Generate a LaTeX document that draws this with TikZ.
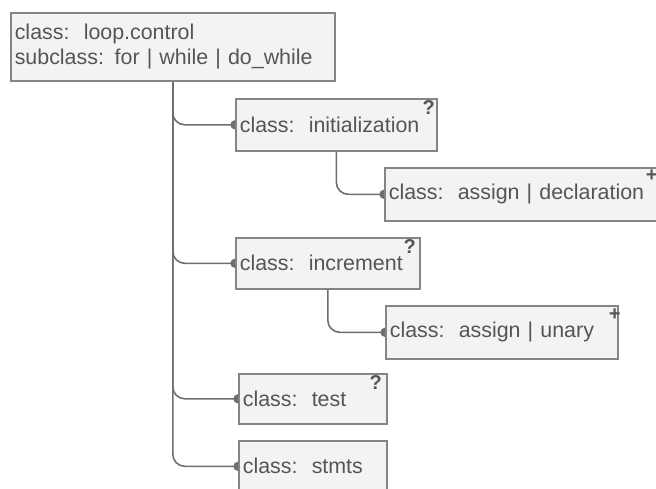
\documentclass[tikz,border=0pt]{standalone}
\usepackage{fontspec}
\setmainfont{Liberation Sans}
\usetikzlibrary{arrows.meta,positioning,calc,backgrounds}
\definecolor{boxfill}{HTML}{F3F3F3}
\definecolor{boxline}{HTML}{858585}
\definecolor{boxtext}{HTML}{555555}
\definecolor{linkgray}{HTML}{6E6E6E}
\tikzset{
    classbox/.style={rectangle, draw=boxline, fill=boxfill, text=boxtext, line width=0.8pt, font=\fontsize{10.7}{12.5}\selectfont, inner xsep=2pt, inner ysep=0pt, align=left, anchor=north west},
    multi/.style={text=boxtext, font=\fontsize{10}{10}\selectfont\bfseries, inner sep=0pt},
    link/.style={draw=linkgray, line width=0.8pt, rounded corners=6pt, -{Circle[length=4.6pt]}, shorten >=-2.3pt}
}

\begin{document}
\begin{tikzpicture}[x=0.5pt,y=-0.5pt]

\useasboundingbox (0,0) rectangle (656,488);
\clip (0,0) rectangle (656,488);

% ----------------------------
% Class boxes
% ----------------------------
\node[classbox, text width=158pt, minimum height=34pt] (loop) at (10,12) {class:~~loop.control\\subclass: for | while | do\_while};

\node[classbox, text width=96.5pt, minimum height=26pt] (init) at (235,98) {class:~~initialization};
\node[classbox, text width=133.5pt, minimum height=26.5pt] (initassign) at (384,167) {class:~~assign | declaration};

\node[classbox, text width=88pt, minimum height=25.5pt] (incr) at (235,237) {class:~~increment};
\node[classbox, text width=112pt, minimum height=26.5pt] (incrassign) at (385,305) {class:~~assign | unary};

\node[classbox, text width=70pt, minimum height=25pt] (test) at (238,373) {class:~~test};
\node[classbox, text width=70pt, minimum height=25.5pt] (stmts) at (238,440) {class:~~stmts};

% ----------------------------
% Multiplicity marks
% ----------------------------
\node[multi] (initq) at ([shift={(-9,10)}]init.north east) {?};
\node[multi] (incrq) at ([shift={(-11,10)}]incr.north east) {?};
\node[multi] (testq) at ([shift={(-12,10)}]test.north east) {?};
\node[multi] (initassignp) at ([shift={(-9,9)}]initassign.north east) {+};
\node[multi] (incrassignp) at ([shift={(-4,10)}]incrassign.north east) {+};

% ----------------------------
% Connectors (behind the boxes)
% ----------------------------
\begin{pgfonlayer}{background}
\foreach \c in {init,incr,test,stmts} {
  \draw[link] (loop.south) |- (\c.west);
}
\draw[link] (init.south) |- (initassign.west);
\draw[link] (incr.south) |- (incrassign.west);
\end{pgfonlayer}

\end{tikzpicture}
\end{document}
